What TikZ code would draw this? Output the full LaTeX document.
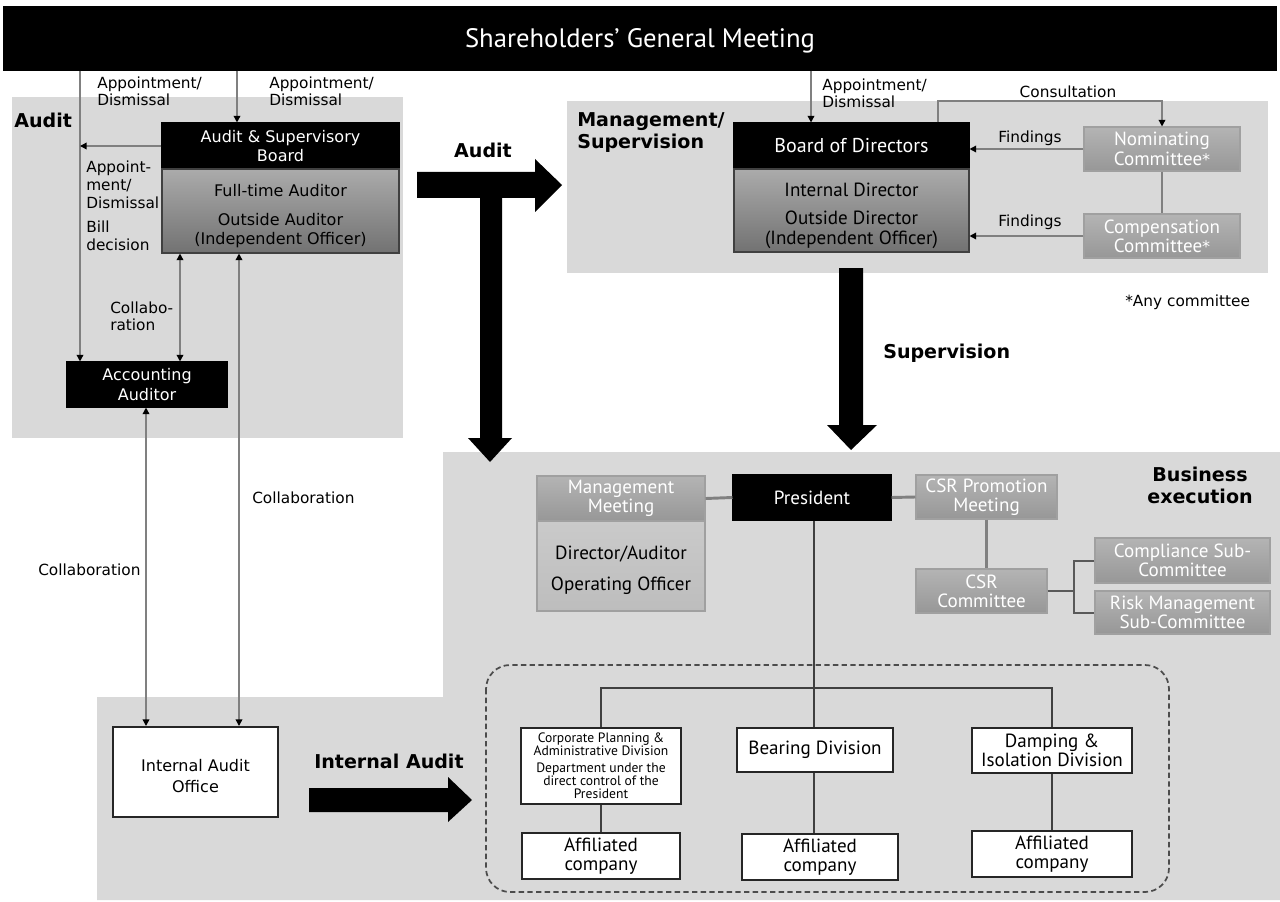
\documentclass[tikz,border=0pt]{standalone}
\usepackage{fontspec}
\setmainfont{DejaVu Sans}
\newfontfamily\cf{PT Sans}
\newfontfamily\dvf{DejaVu Sans}
\usetikzlibrary{arrows.meta,calc}
\definecolor{rg}{HTML}{D9D9D9}
\definecolor{lineg}{HTML}{808080}
\definecolor{bodyt}{HTML}{ABABAB}
\definecolor{bodyb}{HTML}{727272}
\definecolor{cmtt}{HTML}{B4B4B4}
\definecolor{cmtb}{HTML}{979797}
\definecolor{cmtd}{HTML}{A0A0A0}
\definecolor{mmt}{HTML}{CACACA}
\definecolor{mmbt}{HTML}{BDBDBD}
\tikzset{
  sz/.style 2 args={minimum width=#1*0.75pt,minimum height=#2*0.75pt},
  bx/.style={inner sep=0pt,align=center,line width=0.8pt},
  dvs/.style={font=\fontsize{12}{14.5}\selectfont},
  cfs/.style={font=\cf\fontsize{14.3}{14.5}\selectfont},
  txt/.style={inner sep=0pt,align=center},
  blk/.style={bx,fill=black,draw=black,text=white},
  brd/.style={bx,draw=black!75,top color=bodyt,bottom color=bodyb,text=black},
  cmt/.style={bx,draw=cmtd,top color=cmtt,bottom color=cmtb,text=white},
  mmb/.style={bx,draw=cmtd,top color=mmt,bottom color=mmbt,text=black},
  wht/.style={bx,draw=black!85,line width=1.5pt,fill=white,text=black},
  lbl/.style={font=\fontsize{11.5}{13}\selectfont,align=left,inner sep=0pt,anchor=west},
  blbl/.style={font=\bfseries\fontsize{14.3}{16.5}\selectfont,align=left,inner sep=0pt,anchor=west},
  conn/.style={draw=lineg,line width=1.1pt},
  arr/.style={conn,-{Triangle[length=5pt,width=5pt,color=black]}},
  darr/.style={conn,{Triangle[length=5pt,width=5pt,color=black]}-{Triangle[length=5pt,width=5pt,color=black]}},
  thk/.style={draw=lineg,line width=2.2pt},
  brk/.style={draw=black!65,line width=1.5pt},
  org/.style={draw=black!75,line width=1.1pt},
}
\begin{document}
\begin{tikzpicture}[x=0.75pt,y=-0.75pt]
\useasboundingbox (0,0) rectangle (1280,902);
\fill[white] (0,0) rectangle (1280,902);
% regions
\fill[rg] (12,97) rectangle (403,438);
\fill[rg] (567,101) rectangle (1268,273);
\fill[rg] (97,697) -- (443,697) -- (443,452) -- (1280,452) -- (1280,900) -- (97,900) -- cycle;

% big arrows
\fill[black] (417,172) -- (535,172) -- (535,159) -- (562,185) -- (535,212) -- (535,198) -- (502,198) -- (502,438) -- (512,438) -- (490,462) -- (468,438) -- (480,438) -- (480,198) -- (417,198) -- cycle;
\fill[black] (839,268) -- (863,268) -- (863,425) -- (877,425) -- (851,450) -- (827,425) -- (839,425) -- cycle;
\fill[black] (309,788) -- (448,788) -- (448,777) -- (472,800) -- (448,822) -- (448,812) -- (309,812) -- cycle;

% dashed group
\draw[dash pattern=on 4pt off 2.5pt,line width=1.3pt,draw=black!70,rounded corners=18pt] (486,665) rectangle (1169,892);

% nodes
\node[blk,sz={1272}{63}] (sgm) at (640,38.5) {};
\node[txt,text=white,font=\cf\fontsize{20}{22}\selectfont] (sgmt) at (640,41) {Shareholders’ General Meeting};

\node[blk,dvs,sz={237}{46}] (asbH) at (280.5,146) {Audit \& Supervisory\\Board};
\node[brd,sz={237}{84}] (asbB) at (280.5,211) {};
\node[txt,dvs] (asbBt) at (280.5,216) {Full-time Auditor\\[7pt]Outside Auditor\\(Independent Officer)};
\node[blk,dvs,sz={160}{45}] (acc) at (147,384.5) {Accounting\\Auditor};
\node[wht,sz={165}{90}] (iao) at (195.5,772) {};
\node[txt,font=\fontsize{12}{15.5}\selectfont] (iaot) at (195.5,776) {Internal Audit\\Office};

\node[blk,sz={235}{46},font=\cf\fontsize{15}{16}\selectfont] (bodH) at (851.5,146) {Board of Directors};
\node[brd,sz={235}{83}] (bodB) at (851.5,210.5) {};
\node[txt,cfs] (bodBt) at (851.5,216) {Internal Director\\[6.5pt]Outside Director\\(Independent Officer)};
\node[cmt,cfs,sz={156}{44}] (nom) at (1162,149) {Nominating\\Committee{\dvf\fontsize{12}{14}\selectfont*}};
\node[cmt,cfs,sz={156}{44}] (comp) at (1162,236) {Compensation\\Committee{\dvf\fontsize{12}{14}\selectfont*}};

\node[blk,cfs,sz={158}{45}] (pres) at (812,497.5) {President};
\node[cmt,cfs,sz={168}{45}] (mmH) at (621,498.5) {Management\\Meeting};
\node[mmb,sz={168}{90}] (mmB) at (621,566) {};
\node[txt,cfs] (mmBt) at (621,570) {Director/Auditor\\[8.5pt]Operating Officer};
\node[cmt,cfs,sz={141}{44}] (csrp) at (986.5,497) {CSR Promotion\\Meeting};
\node[cmt,cfs,sz={131}{44}] (csrc) at (981.5,591) {CSR\\Committee};
\node[cmt,cfs,sz={175}{45}] (compl) at (1182.5,560.5) {Compliance Sub-\\Committee};
\node[cmt,cfs,sz={175}{43}] (risk) at (1182.5,612.5) {Risk Management\\Sub-Committee};

\node[wht,sz={160}{76},font=\cf\fontsize{10.2}{9.8}\selectfont] (corp) at (601,766) {Corporate Planning \&\\Administrative Division\\[3pt]Department under the\\direct control of the\\President};
\node[wht,cfs,sz={156}{44}] (bear) at (815,750) {Bearing Division};
\node[wht,cfs,sz={160}{45}] (damp) at (1052,750.5) {Damping \&\\Isolation Division};
\node[wht,cfs,sz={158}{46}] (aff1) at (601,856) {Affiliated\\company};
\node[wht,cfs,sz={156}{46}] (aff2) at (820,857) {Affiliated\\company};
\node[wht,cfs,sz={160}{46}] (aff3) at (1052,854) {Affiliated\\company};

% labels
\node[blbl] (tAudit) at (14,120) {Audit};
\node[blbl] (tMgmt) at (577,133) {Management/\\Supervision};
\node[blbl,anchor=center] (tAudit2) at (483,150) {Audit};
\node[blbl] (tSup) at (883,353) {Supervision};
\node[blbl,anchor=center,align=center] (tBus) at (1200,485) {Business\\execution};
\node[blbl] (tIA) at (314,761) {Internal Audit};

\node[lbl] (l1) at (97,91) {Appointment/\\Dismissal};
\node[lbl] (l2) at (269,91) {Appointment/\\Dismissal};
\node[lbl,font=\fontsize{11.5}{13.5}\selectfont] (l3) at (86,185) {Appoint-\\ment/\\Dismissal};
\node[lbl,font=\fontsize{11.5}{13.5}\selectfont] (l4) at (86,236) {Bill\\decision};
\node[lbl] (l5) at (110,316) {Collabo-\\ration};
\node[lbl] (l6) at (38,570) {Collaboration};
\node[lbl] (l7) at (252,498) {Collaboration};
\node[lbl] (l8) at (822,93) {Appointment/\\Dismissal};
\node[lbl,anchor=center] (l9) at (1068,92) {Consultation};
\node[lbl,anchor=center] (l10) at (1030,138) {Findings};
\node[lbl,anchor=center] (l11) at (1030,222) {Findings};
\node[lbl] (l12) at (1125,302) {*Any committee};

% helper coordinates
\coordinate (xa) at (80,0);
\coordinate (xb) at (237,0);
\coordinate (xc) at (180,0);
\coordinate (xd) at (239,0);
\coordinate (xe) at (146,0);
\coordinate (xf) at (811,0);
\coordinate (cc) at (938,101);
\coordinate (bk) at (1074,0);
\coordinate (xl) at (814,0);
\coordinate (bus) at (814,688);

% connectors
\draw[arr] (sgm.south -| xa) -- (acc.north -| xa);
\draw[arr] (sgm.south -| xb) -- (asbH.north -| xb);
\draw[arr] (asbH.west) -- (asbH.west -| xa);
\draw[darr] (asbB.south -| xc) -- (acc.north -| xc);
\draw[darr] (asbB.south -| xd) -- (iao.north -| xd);
\draw[darr] (acc.south -| xe) -- (iao.north -| xe);
\draw[arr] (sgm.south -| xf) -- (bodH.north -| xf);
\draw[arr] (bodH.north -| cc) -- (cc) -| (nom.north);
\draw[arr] (nom.west) -- (nom.west -| bodH.east);
\draw[arr] (comp.west) -- (comp.west -| bodB.east);
\draw[conn] (nom.south) -- (comp.north);
\draw[thk] (mmH.east) -- (pres.west);
\draw[thk] (pres.east) -- (csrp.west);
\draw[conn,line width=1.6pt] (csrp.south) -- (csrp.south |- csrc.north);
\draw[brk] (csrc.east) -- (csrc.east -| bk);
\draw[brk] (compl.west) -| (bk |- risk.west) -- (risk.west);
\draw[org] (pres.south -| xl) -- (bear.north -| xl);
\draw[org] (corp.north) |- (bus) -| (damp.north);
\draw[org] (corp.south) -- (aff1.north);
\draw[org] (bear.south -| xl) -- (aff2.north -| xl);
\draw[org] (damp.south) -- (aff3.north);
\end{tikzpicture}
\end{document}
